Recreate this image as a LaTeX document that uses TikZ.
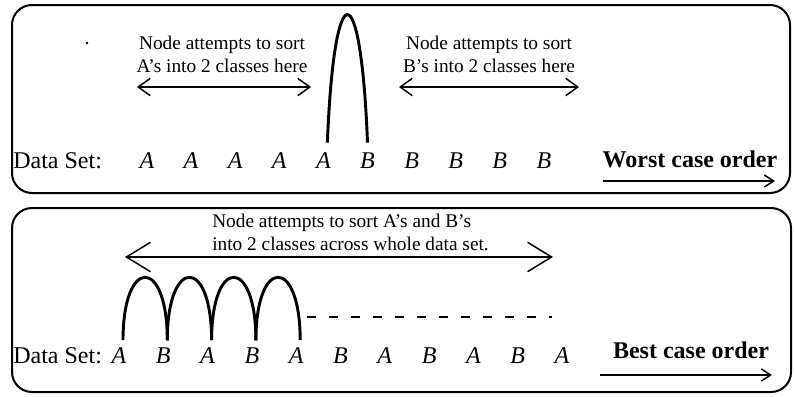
\documentclass[tikz,border=0pt]{standalone}
\usepackage{fontspec}
\setmainfont{Liberation Serif}
\usetikzlibrary{arrows.meta}

\begin{document}
\begin{tikzpicture}[x=0.75pt,y=-0.75pt,
  box/.style={line width=1.5pt,rounded corners=15pt},
  note/.style={font=\fontsize{14.5}{17.25}\selectfont,align=center,inner sep=0pt},
  dat/.style={font=\fontsize{18}{20}\selectfont,inner sep=0pt,anchor=base},
  dbl/.style={line width=1.1pt,{Straight Barb[length=9pt,width=13pt]}-{Straight Barb[length=9pt,width=13pt]}},
  hump/.style={line width=2.2pt},
  ord/.style={line width=1.1pt,-{Straight Barb[length=7pt,width=9pt]}}]
\useasboundingbox (0,0) rectangle (795,396);
% worst case panel
\draw[box] (12,5) rectangle (790,193);
\fill (87,43) circle (1.4);
\node[note] (na) at (222,54) {Node attempts to sort\\A's into 2 classes here};
\node[note] (nb) at (489,54) {Node attempts to sort\\B's into 2 classes here};
\coordinate (a1) at (137,87); \coordinate (a2) at (311,87);
\coordinate (b1) at (399,87); \coordinate (b2) at (579,87);
\draw[dbl] (a1)--(a2); \draw[dbl] (b1)--(b2);
\node[dat,anchor=base west] (ds1) at (13,168) {Data Set:};
\foreach \l [count=\i] in {A,A,A,A,A,B,B,B,B,B}
  \node[dat] (t\i) at ({147+44.1*(\i-1)},168) {\textit{\l}};
\draw[hump] ([xshift=3pt,yshift=7pt]t5.north) .. controls +(5pt,128pt) and +(-5pt,128pt) .. ([xshift=0pt,yshift=7pt]t6.north);
\node[dat,font=\fontsize{18}{20}\selectfont\bfseries] (wc) at (690,167) {Worst case order};
\coordinate (w1) at (603,181); \coordinate (w2) at (775,181);
\draw[ord] (w1)--(w2);
% best case panel
\draw[box] (12,208) rectangle (791,392);
\node[note,align=left,anchor=west] (nc) at (212,232) {Node attempts to sort A's and B's\\into 2 classes across whole data set.};
\coordinate (c1) at (125,257); \coordinate (c2) at (553,257);
\draw[dbl,{Straight Barb[length=18pt,width=22pt]}-{Straight Barb[length=18pt,width=22pt]}] (c1)--(c2);
\node[dat,anchor=base west] (ds2) at (13,363) {Data Set:};
\foreach \l [count=\i] in {A,B,A,B,A,B,A,B,A,B,A}
  \node[dat] (b\i) at ({119+44.3*(\i-1)},363) {\textit{\l}};
\foreach \i [evaluate=\i as \j using int(\i+1)] in {1,...,4}
  \draw[hump] ([xshift=3pt,yshift=5pt]b\i.north) .. controls +(0,63pt) and +(0,63pt) .. ([xshift=3pt,yshift=5pt]b\j.north);
\coordinate (d1) at (307,317); \coordinate (d2) at (552,317);
\draw[line width=1pt,dash pattern=on 7pt off 9.5pt] (d1)--(d2);
\node[dat,font=\fontsize{18}{20}\selectfont\bfseries] (bc) at (691,358) {Best case order};
\coordinate (e1) at (600,375); \coordinate (e2) at (772,375);
\draw[ord] (e1)--(e2);
\end{tikzpicture}
\end{document}
